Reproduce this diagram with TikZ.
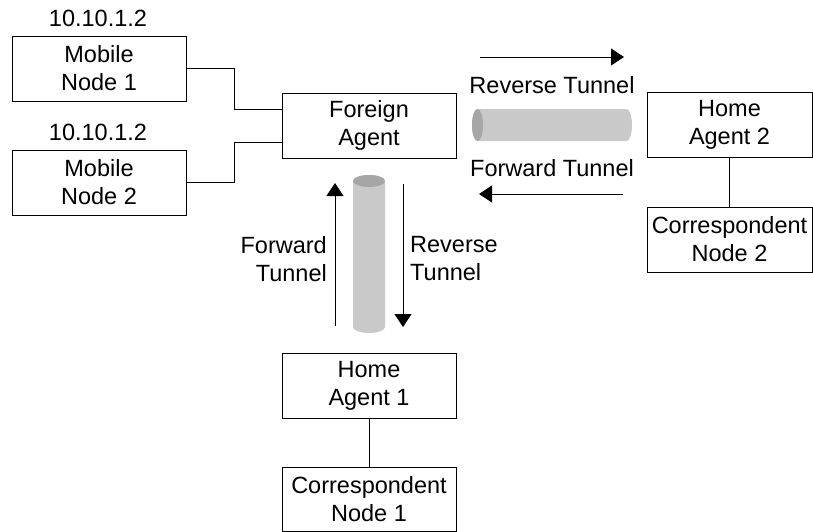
\documentclass[tikz,border=0pt]{standalone}
\usepackage{fontspec}
\setmainfont{Liberation Sans}
\usetikzlibrary{arrows.meta}
\definecolor{tubebody}{RGB}{201,201,201}
\definecolor{tubeend}{RGB}{166,166,166}
\begin{document}
\begin{tikzpicture}[x=1pt,y=-1pt,
  every node/.style={font=\fontsize{23.5}{28}\selectfont, inner sep=0pt},
  box/.style={draw, line width=0.8pt, align=center, minimum height=65pt},
  wire/.style={line width=0.8pt},
  flow/.style={line width=0.8pt, -{Triangle[length=13pt,width=17pt]}},
  tube/.style={fill=tubebody, draw=none},
  tubecap/.style={fill=tubeend, draw=none}]
\useasboundingbox (0,0) rectangle (813,531);

% boxes
\node[box, minimum width=174pt] (mn1) at (99,68.5) {Mobile\\Node 1};
\node[box, minimum width=174pt] (mn2) at (99,182.5) {Mobile\\Node 2};
\node[box, minimum width=174pt] (fa) at (369,125.5) {Foreign\\Agent};
\node[box, minimum width=165pt] (ha2) at (729.5,125) {Home\\Agent 2};
\node[box, minimum width=165pt] (cn2) at (729.5,239.5) {Correspondent\\Node 2};
\node[box, minimum width=174pt] (ha1) at (369,385.5) {Home\\Agent 1};
\node[box, minimum width=174pt, minimum height=64pt] (cn1) at (369,499) {Correspondent\\Node 1};

% addresses
\node (ip1) at (98,18) {10.10.1.2};
\node (ip2) at (98,132) {10.10.1.2};

% wires
\draw[wire] (mn1.east) -- ++(47.5,0) |- ([yshift=16.5pt]fa.west);
\draw[wire] (mn2.east) -- ++(47.5,0) |- ([yshift=-16.5pt]fa.west);
\draw[wire] (ha2) -- (cn2);
\draw[wire] (ha1) -- (cn1);

% horizontal tunnel
\fill[tube] (477.5,109) -- (626.5,109) arc[start angle=-90, end angle=90, x radius=5.5, y radius=16]
  -- (477.5,141) arc[start angle=90, end angle=270, x radius=5.5, y radius=16] -- cycle;
\fill[tubecap] (477.5,125) ellipse[x radius=5.5, y radius=16];

% vertical tunnel
\fill[tube] (353,181) -- (353,327) arc[start angle=180, end angle=0, x radius=16, y radius=6]
  -- (385,181) arc[start angle=0, end angle=-180, x radius=16, y radius=6] -- cycle;
\fill[tubecap] (369,181) ellipse[x radius=16, y radius=6];

% flow arrows
\coordinate (r1) at (480,57);
\coordinate (r2) at (624,57);
\coordinate (f1) at (623,194);
\coordinate (f2) at (479,194);
\coordinate (u1) at (335,326);
\coordinate (u2) at (335,183);
\coordinate (d1) at (403,184);
\coordinate (d2) at (403,327);
\draw[flow] (r1) -- (r2);
\draw[flow] (f1) -- (f2);
\draw[flow] (u1) -- (u2);
\draw[flow] (d1) -- (d2);

% tunnel labels
\node (rt) at (552,85) {Reverse Tunnel};
\node (ft) at (552,168) {Forward Tunnel};
\node[align=right, anchor=east] (ftv) at (327,259) {Forward\\Tunnel};
\node[align=left, anchor=west] (rtv) at (410,259) {Reverse\\Tunnel};
\end{tikzpicture}
\end{document}
